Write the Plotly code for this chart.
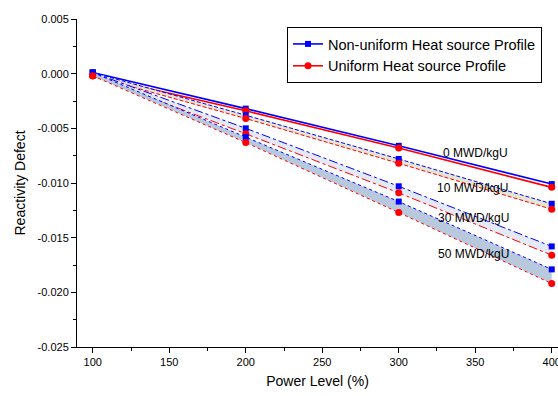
import plotly.graph_objects as go

power = [100, 200, 300, 400]
burnups = ["0 MWD/kgU", "10 MWD/kgU", "30 MWD/kgU", "50 MWD/kgU"]

nonuniform = {
    "0 MWD/kgU":  [0.0001, -0.0032, -0.0066, -0.0101],
    "10 MWD/kgU": [0.0001, -0.0038, -0.0078, -0.0119],
    "30 MWD/kgU": [0.0001, -0.0050, -0.0103, -0.0158],
    "50 MWD/kgU": [0.0001, -0.0058, -0.0117, -0.0179],
}
uniform = {
    "0 MWD/kgU":  [-0.0002, -0.0034, -0.0068, -0.0104],
    "10 MWD/kgU": [-0.0002, -0.0041, -0.0082, -0.0124],
    "30 MWD/kgU": [-0.0002, -0.0055, -0.0109, -0.0166],
    "50 MWD/kgU": [-0.0002, -0.0063, -0.0127, -0.0192],
}
label_pos = {
    "0 MWD/kgU": (350, -0.0073),
    "10 MWD/kgU": (348, -0.0105),
    "30 MWD/kgU": (349, -0.0132),
    "50 MWD/kgU": (349, -0.0165),
}
y_ticks = [0.005, 0.0, -0.005, -0.010, -0.015, -0.020, -0.025]
y_ticklabels = ["0.005", "0.000", "-0.005", "-0.010", "-0.015", "-0.020", "-0.025"]
x_ticks = [100, 150, 200, 250, 300, 350, 400]

dash_styles = {"0 MWD/kgU": "solid", "10 MWD/kgU": "4px,2px",
               "30 MWD/kgU": "dashdot", "50 MWD/kgU": "dot"}
fills = {"0 MWD/kgU": None, "10 MWD/kgU": "rgba(228,228,208,0.95)",
         "30 MWD/kgU": "rgba(226,232,244,0.95)", "50 MWD/kgU": "rgba(180,198,220,0.95)"}
widths = {"0 MWD/kgU": 1.6, "10 MWD/kgU": 1, "30 MWD/kgU": 1, "50 MWD/kgU": 1}

fig = go.Figure()
for b in burnups:
    first = b == "0 MWD/kgU"
    fig.add_trace(go.Scatter(
        x=power, y=nonuniform[b], mode="lines+markers",
        name="Non-uniform Heat source Profile", showlegend=first,
        line=dict(color="#0000ff", width=widths[b], dash=dash_styles[b]),
        marker=dict(symbol="square", size=6, color="#0000ff"),
        cliponaxis=False))
    fig.add_trace(go.Scatter(
        x=power, y=uniform[b], mode="lines+markers",
        name="Uniform Heat source Profile", showlegend=first,
        fill="tonexty" if fills[b] else None,
        fillcolor=fills[b],
        line=dict(color="#ff0000", width=widths[b], dash=dash_styles[b]),
        marker=dict(symbol="circle", size=7, color="#ff0000"),
        cliponaxis=False))

for b in burnups:
    lx, ly = label_pos[b]
    fig.add_annotation(x=lx, y=ly, text=b, showarrow=False,
                       font=dict(size=12, color="#000000"))

fig.update_layout(
    width=558, height=396,
    margin=dict(l=77, r=0, t=19, b=49, autoexpand=False),
    paper_bgcolor="white", plot_bgcolor="white",
    font=dict(family="Liberation Sans, Arial, sans-serif", color="#000000"),
    legend=dict(x=0.4366, y=0.9756, xanchor="left", yanchor="top",
                bordercolor="#000000", borderwidth=1, bgcolor="white",
                font=dict(size=14.5), tracegroupgap=0, traceorder="normal",
                itemwidth=30),
    xaxis=dict(range=[89.7, 404.1], tickvals=x_ticks, automargin=False,
               ticklabeloverflow="allow",
               showline=True, linecolor="#000000", linewidth=1,
               ticks="outside", ticklen=5, tickcolor="#000000",
               minor=dict(ticks="outside", ticklen=3, dtick=25, tickcolor="#000000"),
               showgrid=False, zeroline=False,
               tickfont=dict(size=11),
               title=dict(text="Power Level (%)", font=dict(size=14), standoff=8)),
    yaxis=dict(range=[-0.025, 0.005], tickvals=y_ticks, ticktext=y_ticklabels,
               automargin=False, ticklabeloverflow="allow",
               showline=True, linecolor="#000000", linewidth=1,
               ticks="outside", ticklen=5, tickcolor="#000000",
               minor=dict(ticks="outside", ticklen=3, dtick=0.0025, tickcolor="#000000"),
               showgrid=False, zeroline=False,
               tickfont=dict(size=11),
               title=dict(text="Reactivity Defect", font=dict(size=14), standoff=8)),
)

fig.write_html(
    "out.html",
    config={"displayModeBar": False},
    post_script="document.body.style.margin='0';document.body.style.overflow='hidden';",
)
